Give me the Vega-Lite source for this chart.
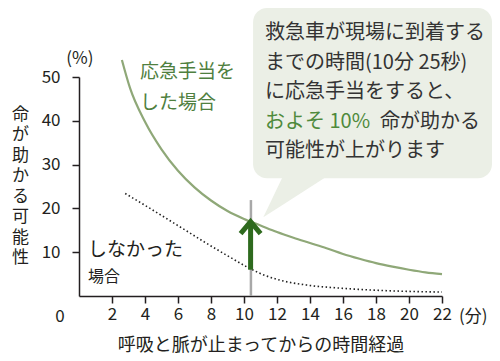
{
  "$schema": "https://vega.github.io/schema/vega-lite/v6.json",
  "width": 363,
  "height": 219,
  "autosize": "none",
  "padding": {"left": 79, "top": 77, "right": 58, "bottom": 65},
  "background": "white",
  "data": {"values": [{"n": 1}]},
  "config": {
    "view": {"stroke": null},
    "font": "Noto Sans CJK JP",
    "axis": {
      "grid": false,
      "domainColor": "#231f20",
      "domainWidth": 1.5,
      "tickColor": "#231f20",
      "tickWidth": 1.5,
      "tickSize": 7,
      "labelOverlap": false,
      "labelFlush": false,
      "labelFont": "Noto Sans CJK JP",
      "labelFontSize": 17,
      "labelColor": "#231f20",
      "titleFont": "Noto Sans CJK JP",
      "titleFontWeight": "normal",
      "titleColor": "#231f20",
      "titleFontSize": 18
    }
  },
  "datasets": {
    "curves": [
      {"t": 2.6, "v": 53.9, "s": "した"},
      {"t": 3.1, "v": 47.4, "s": "した"},
      {"t": 4.0, "v": 39.8, "s": "した"},
      {"t": 5.0, "v": 33.5, "s": "した"},
      {"t": 6.0, "v": 28.6, "s": "した"},
      {"t": 7.0, "v": 24.8, "s": "した"},
      {"t": 8.0, "v": 21.8, "s": "した"},
      {"t": 9.0, "v": 19.4, "s": "した"},
      {"t": 10.0, "v": 17.6, "s": "した"},
      {"t": 11.0, "v": 16.1, "s": "した"},
      {"t": 12.0, "v": 14.6, "s": "した"},
      {"t": 13.0, "v": 13.3, "s": "した"},
      {"t": 14.0, "v": 12.1, "s": "した"},
      {"t": 15.0, "v": 10.9, "s": "した"},
      {"t": 16.0, "v": 9.6, "s": "した"},
      {"t": 17.0, "v": 8.5, "s": "した"},
      {"t": 18.0, "v": 7.5, "s": "した"},
      {"t": 19.0, "v": 6.7, "s": "した"},
      {"t": 20.0, "v": 6.0, "s": "した"},
      {"t": 21.0, "v": 5.4, "s": "した"},
      {"t": 22.0, "v": 5.0, "s": "した"},
      {"t": 2.8, "v": 23.4, "s": "しなかった"},
      {"t": 4.0, "v": 20.7, "s": "しなかった"},
      {"t": 5.3, "v": 17.7, "s": "しなかった"},
      {"t": 6.5, "v": 14.9, "s": "しなかった"},
      {"t": 7.7, "v": 12.1, "s": "しなかった"},
      {"t": 9.0, "v": 9.2, "s": "しなかった"},
      {"t": 10.3, "v": 6.4, "s": "しなかった"},
      {"t": 11.2, "v": 4.8, "s": "しなかった"},
      {"t": 12.2, "v": 3.6, "s": "しなかった"},
      {"t": 13.8, "v": 2.5, "s": "しなかった"},
      {"t": 15.8, "v": 1.8, "s": "しなかった"},
      {"t": 17.8, "v": 1.35, "s": "しなかった"},
      {"t": 20.0, "v": 1.05, "s": "しなかった"},
      {"t": 22.0, "v": 0.9, "s": "しなかった"}
    ],
    "tail": [
      {"t": 11.17, "top": 17.97, "bottom": 17.97},
      {"t": 12.38, "top": 27.5, "bottom": 20.9},
      {"t": 15.11, "top": 27.5, "bottom": 27.5}
    ]
  },
  "layer": [
    {
      "mark": {"type": "rect", "color": "#ebefe6", "cornerRadius": 14, "clip": false},
      "encoding": {
        "x": {"datum": 10.55, "type": "quantitative"},
        "x2": {"datum": 25.03},
        "y": {"datum": 65.75, "type": "quantitative"},
        "y2": {"datum": 26.9}
      }
    },
    {
      "data": {"name": "tail"},
      "mark": {"type": "area", "color": "#ebefe6", "clip": false},
      "encoding": {
        "x": {"field": "t", "type": "quantitative"},
        "y": {"field": "top", "type": "quantitative"},
        "y2": {"field": "bottom"}
      }
    },
    {
      "mark": {"type": "rule", "color": "#a8a8a8", "strokeWidth": 2.5},
      "encoding": {
        "x": {"datum": 10.42, "type": "quantitative"},
        "y": {"datum": 0, "type": "quantitative"},
        "y2": {"datum": 21.9}
      }
    },
    {
      "data": {"name": "curves"},
      "transform": [{"filter": "datum.s === 'した'"}],
      "mark": {"type": "line", "color": "#8fa878", "strokeWidth": 2.2, "interpolate": "monotone", "clip": false},
      "encoding": {
        "x": {
          "field": "t", "type": "quantitative",
          "scale": {"domain": [0, 22], "nice": false},
          "axis": {
            "values": [2, 4, 6, 8, 10, 12, 14, 16, 18, 20, 22],
            "tickCount": 12,
            "labelOverlap": false,
            "labelFlush": false,
            "labelPadding": 3,
            "title": "呼吸と脈が止まってからの時間経過",
            "titleBaseline": "middle",
            "titleY": 49
          }
        },
        "y": {
          "field": "v", "type": "quantitative",
          "scale": {"domain": [0, 50], "nice": false},
          "axis": {
            "values": [10, 20, 30, 40, 50],
            "tickCount": 6,
            "labelOverlap": false,
            "labelFlush": false,
            "labelPadding": 12,
            "title": ["命", "が", "助", "か", "る", "可", "能", "性"],
            "titleAngle": 0,
            "titleAlign": "center",
            "titleBaseline": "middle",
            "titleFontSize": 17,
            "titleLineHeight": 20.5,
            "titleX": -59,
            "titleY": 37
          }
        }
      }
    },
    {
      "data": {"name": "curves"},
      "transform": [{"filter": "datum.s === 'しなかった'"}],
      "mark": {"type": "line", "color": "#222222", "strokeWidth": 1.6, "strokeDash": [1.5, 2.5], "interpolate": "monotone"},
      "encoding": {
        "x": {"field": "t", "type": "quantitative"},
        "y": {"field": "v", "type": "quantitative"}
      }
    },
    {
      "mark": {"type": "rule", "color": "#2e6a1e", "strokeWidth": 5},
      "encoding": {
        "x": {"datum": 10.4, "type": "quantitative"},
        "y": {"datum": 6.0, "type": "quantitative"},
        "y2": {"datum": 16.6}
      }
    },
    {
      "mark": {"type": "point", "shape": "M-1,1.2L0,0L1,1.2", "filled": false, "size": 400, "strokeWidth": 5, "color": "#2e6a1e", "opacity": 1},
      "encoding": {
        "x": {"datum": 10.4, "type": "quantitative"},
        "y": {"datum": 17.0, "type": "quantitative"}
      }
    },
    {
      "mark": {"type": "text", "align": "left", "baseline": "middle", "fontSize": 19, "color": "#4f8040", "clip": false},
      "encoding": {
        "x": {"datum": 3.7, "type": "quantitative"},
        "y": {"datum": 51.1, "type": "quantitative"},
        "text": {"value": "応急手当を"}
      }
    },
    {
      "mark": {"type": "text", "align": "left", "baseline": "middle", "fontSize": 19, "color": "#4f8040"},
      "encoding": {
        "x": {"datum": 3.7, "type": "quantitative"},
        "y": {"datum": 44.1, "type": "quantitative"},
        "text": {"value": "した場合"}
      }
    },
    {
      "mark": {"type": "text", "align": "left", "baseline": "middle", "fontSize": 19, "color": "#231f20"},
      "encoding": {
        "x": {"datum": 0.55, "type": "quantitative"},
        "y": {"datum": 10.5, "type": "quantitative"},
        "text": {"value": "しなかった"}
      }
    },
    {
      "mark": {"type": "text", "align": "left", "baseline": "middle", "fontSize": 16, "color": "#231f20"},
      "encoding": {
        "x": {"datum": 0.55, "type": "quantitative"},
        "y": {"datum": 4.3, "type": "quantitative"},
        "text": {"value": "場合"}
      }
    },
    {
      "mark": {"type": "text", "align": "center", "baseline": "middle", "fontSize": 17, "color": "#231f20", "clip": false},
      "encoding": {
        "x": {"datum": -1.15, "type": "quantitative"},
        "y": {"datum": -4.8, "type": "quantitative"},
        "text": {"value": "0"}
      }
    },
    {
      "mark": {"type": "text", "align": "center", "baseline": "middle", "fontSize": 17, "color": "#231f20", "clip": false},
      "encoding": {
        "x": {"datum": 23.9, "type": "quantitative"},
        "y": {"datum": -4.8, "type": "quantitative"},
        "text": {"value": "(分)"}
      }
    },
    {
      "mark": {"type": "text", "align": "center", "baseline": "middle", "fontSize": 17, "color": "#231f20", "clip": false},
      "encoding": {
        "x": {"datum": 0.05, "type": "quantitative"},
        "y": {"datum": 54.0, "type": "quantitative"},
        "text": {"value": "(%)"}
      }
    },
    {
      "mark": {"type": "text", "align": "left", "baseline": "middle", "fontSize": 20, "color": "#333333", "clip": false},
      "encoding": {
        "x": {"datum": 11.27, "type": "quantitative"},
        "y": {"datum": 60.0, "type": "quantitative"},
        "text": {"value": "救急車が現場に到着する"}
      }
    },
    {
      "mark": {"type": "text", "align": "left", "baseline": "middle", "fontSize": 20, "color": "#333333", "clip": false},
      "encoding": {
        "x": {"datum": 11.27, "type": "quantitative"},
        "y": {"datum": 53.3, "type": "quantitative"},
        "text": {"value": "までの時間(10分 25秒)"}
      }
    },
    {
      "mark": {"type": "text", "align": "left", "baseline": "middle", "fontSize": 20, "color": "#333333", "clip": false},
      "encoding": {
        "x": {"datum": 11.27, "type": "quantitative"},
        "y": {"datum": 46.6, "type": "quantitative"},
        "text": {"value": "に応急手当をすると、"}
      }
    },
    {
      "mark": {"type": "text", "align": "left", "baseline": "middle", "fontSize": 20, "color": "#4f8a3c", "clip": false},
      "encoding": {
        "x": {"datum": 11.27, "type": "quantitative"},
        "y": {"datum": 39.8, "type": "quantitative"},
        "text": {"value": "およそ 10%"}
      }
    },
    {
      "mark": {"type": "text", "align": "left", "baseline": "middle", "fontSize": 20, "color": "#333333", "clip": false},
      "encoding": {
        "x": {"datum": 18.24, "type": "quantitative"},
        "y": {"datum": 39.8, "type": "quantitative"},
        "text": {"value": "命が助かる"}
      }
    },
    {
      "mark": {"type": "text", "align": "left", "baseline": "middle", "fontSize": 20, "color": "#333333", "clip": false},
      "encoding": {
        "x": {"datum": 11.27, "type": "quantitative"},
        "y": {"datum": 33.1, "type": "quantitative"},
        "text": {"value": "可能性が上がります"}
      }
    }
  ]
}
